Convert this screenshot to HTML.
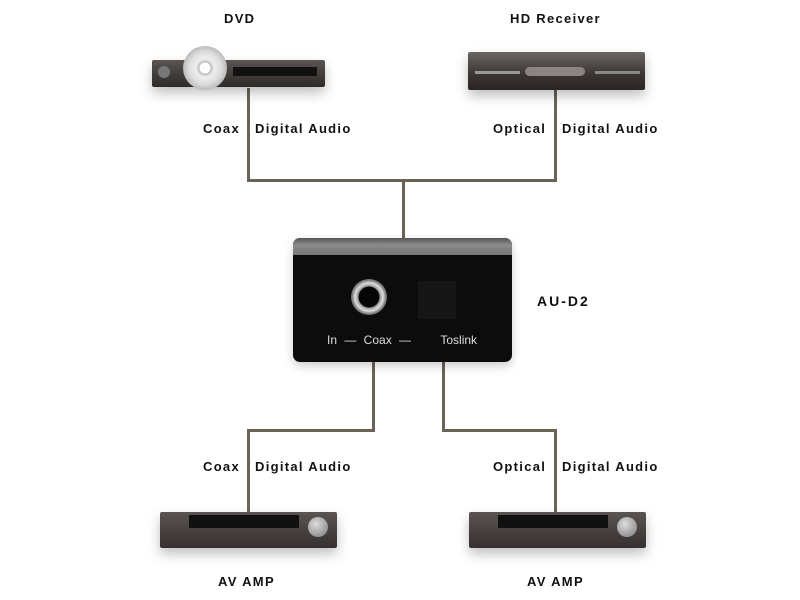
<!DOCTYPE html>
<html><head><style>
body{margin:0;width:800px;height:600px;background:#fff;position:relative;overflow:hidden;font-family:"Liberation Sans",sans-serif}
.t{position:absolute;font-weight:bold;font-size:13px;letter-spacing:1.3px;color:#111;white-space:nowrap}
.l{position:absolute;background:#6b6456}
</style></head><body>
<div class="l" style="left:247px;top:88px;width:3px;height:94px"></div>
<div class="l" style="left:554px;top:90px;width:3px;height:92px"></div>
<div class="l" style="left:247px;top:179px;width:310px;height:3px"></div>
<div class="l" style="left:402px;top:179px;width:3px;height:60px"></div>
<div class="l" style="left:372px;top:360px;width:3px;height:72px"></div>
<div class="l" style="left:247px;top:429px;width:128px;height:3px"></div>
<div class="l" style="left:247px;top:429px;width:3px;height:86px"></div>
<div class="l" style="left:442px;top:360px;width:3px;height:72px"></div>
<div class="l" style="left:442px;top:429px;width:115px;height:3px"></div>
<div class="l" style="left:554px;top:429px;width:3px;height:86px"></div>

<div class="t" style="left:224px;top:11px">DVD</div>
<div style="position:absolute;left:152px;top:60px;width:173px;height:27px;background:linear-gradient(#5a5552,#2e2a28);border-radius:2px;box-shadow:0 6px 12px rgba(0,0,0,.25)"></div>
<div style="position:absolute;left:233px;top:67px;width:84px;height:9px;background:#111"></div>
<div style="position:absolute;left:158px;top:66px;width:12px;height:12px;border-radius:50%;background:#777"></div>
<div style="position:absolute;left:183px;top:46px;width:44px;height:44px;border-radius:50%;background:radial-gradient(circle,#fff 0 5px,#bbb 6px,#eee 9px,#ddd 16px,#bbb 22px)"></div>
<div class="t" style="left:203px;top:121px">Coax</div>
<div class="t" style="left:255px;top:121px">Digital Audio</div>

<div class="t" style="left:510px;top:11px">HD Receiver</div>
<div style="position:absolute;left:468px;top:52px;width:177px;height:38px;background:linear-gradient(#6a6562,#3a3532 60%,#2a2624);border-radius:2px;box-shadow:0 6px 12px rgba(0,0,0,.25)"></div>
<div style="position:absolute;left:525px;top:67px;width:60px;height:9px;border-radius:5px;background:#8a8580"></div>
<div style="position:absolute;left:475px;top:71px;width:45px;height:3px;background:#999"></div>
<div style="position:absolute;left:595px;top:71px;width:45px;height:3px;background:#888"></div>
<div class="t" style="left:493px;top:121px">Optical</div>
<div class="t" style="left:562px;top:121px">Digital Audio</div>

<div style="position:absolute;left:293px;top:238px;width:219px;height:124px;background:#0c0c0c;border-radius:7px;overflow:hidden;box-shadow:0 4px 10px rgba(0,0,0,.2)">
<div style="position:absolute;left:0;top:0;width:219px;height:17px;background:linear-gradient(#555,#8a8a8a 40%,#777)"></div>
<div style="position:absolute;left:58px;top:41px;width:36px;height:36px;border-radius:50%;background:radial-gradient(circle,#050505 0 10px,#999 11px,#ddd 14px,#777 17px)"></div>
<div style="position:absolute;left:125px;top:43px;width:38px;height:38px;background:#161616"></div>
<div style="position:absolute;left:34px;top:95px;color:#ddd;font-size:12px;white-space:nowrap;word-spacing:4px">In — Coax — &nbsp;&nbsp;&nbsp;Toslink</div>
</div>
<div class="t" style="left:537px;top:293px;font-size:14px;letter-spacing:2px">AU-D2</div>

<div class="t" style="left:203px;top:459px">Coax</div>
<div class="t" style="left:255px;top:459px">Digital Audio</div>
<div class="t" style="left:493px;top:459px">Optical</div>
<div class="t" style="left:562px;top:459px">Digital Audio</div>

<div style="position:absolute;left:160px;top:512px;width:177px;height:36px;background:linear-gradient(#5a5552,#353130);border-radius:2px;box-shadow:0 6px 12px rgba(0,0,0,.25)"></div>
<div style="position:absolute;left:189px;top:515px;width:110px;height:13px;background:#111"></div>
<div style="position:absolute;left:308px;top:517px;width:20px;height:20px;border-radius:50%;background:radial-gradient(circle at 40% 35%,#ddd,#777)"></div>
<div style="position:absolute;left:469px;top:512px;width:177px;height:36px;background:linear-gradient(#5a5552,#353130);border-radius:2px;box-shadow:0 6px 12px rgba(0,0,0,.25)"></div>
<div style="position:absolute;left:498px;top:515px;width:110px;height:13px;background:#111"></div>
<div style="position:absolute;left:617px;top:517px;width:20px;height:20px;border-radius:50%;background:radial-gradient(circle at 40% 35%,#ddd,#777)"></div>
<div class="t" style="left:218px;top:574px">AV AMP</div>
<div class="t" style="left:527px;top:574px">AV AMP</div>
</body></html>
